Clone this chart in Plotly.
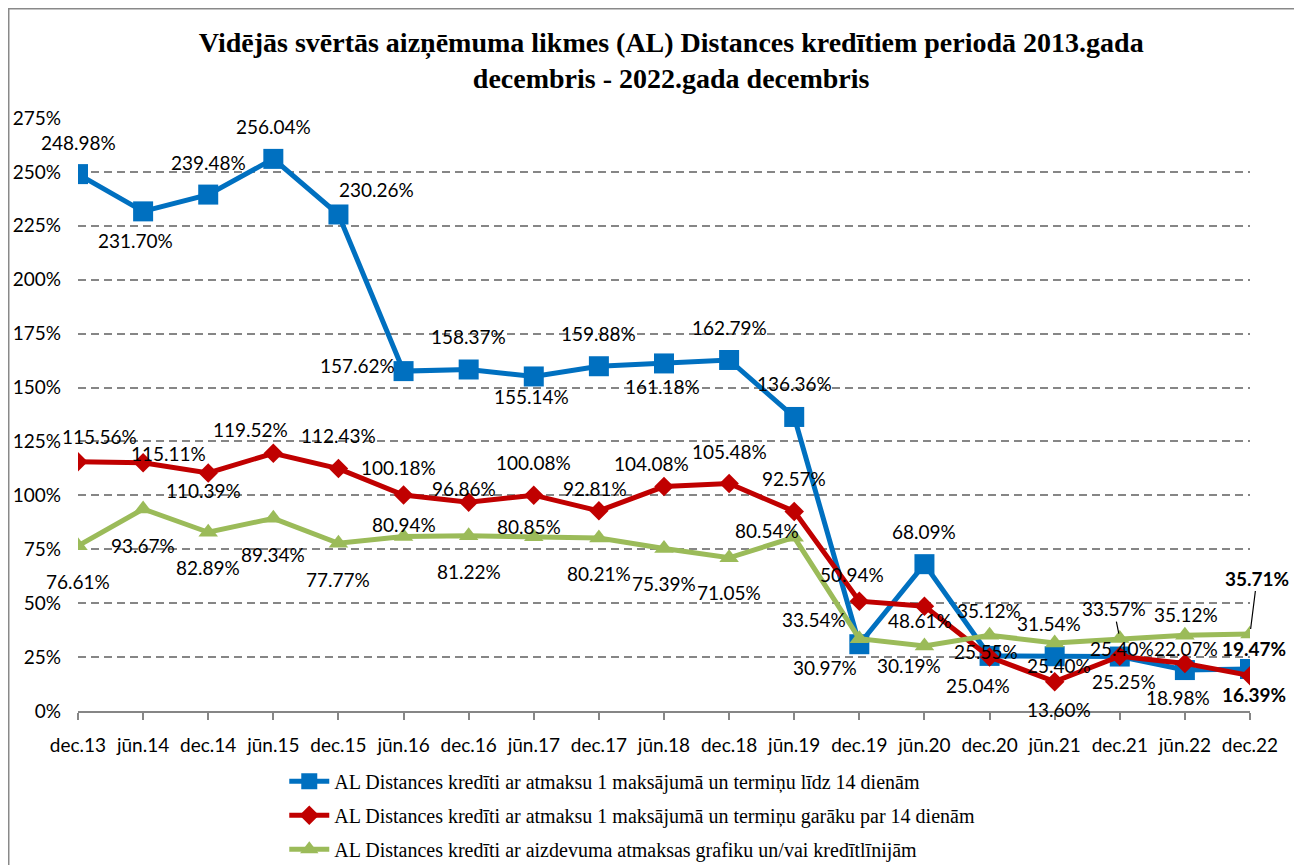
import plotly.graph_objects as go

categories = ["dec.13", "jūn.14", "dec.14", "jūn.15", "dec.15", "jūn.16", "dec.16", "jūn.17",
              "dec.17", "jūn.18", "dec.18", "jūn.19", "dec.19", "jūn.20", "dec.20", "jūn.21",
              "dec.21", "jūn.22", "dec.22"]

short_term = [248.98, 231.70, 239.48, 256.04, 230.26, 157.62, 158.37, 155.14, 159.88, 161.18,
              162.79, 136.36, 30.97, 68.09, 25.55, 25.40, 25.25, 18.98, 19.47]
long_term = [115.56, 115.11, 110.39, 119.52, 112.43, 100.18, 96.86, 100.08, 92.81, 104.08,
             105.48, 92.57, 50.94, 48.61, 25.04, 13.60, 25.40, 22.07, 16.39]
schedule = [76.61, 93.67, 82.89, 89.34, 77.77, 80.94, 81.22, 80.85, 80.21, 75.39,
            71.05, 80.54, 33.54, 30.19, 35.12, 31.54, 33.57, 35.12, 35.71]

names = ["AL Distances kredīti ar atmaksu 1 maksājumā un termiņu līdz 14 dienām",
         "AL Distances kredīti ar atmaksu 1 maksājumā un termiņu garāku par 14 dienām",
         "AL Distances kredīti ar aizdevuma atmaksas grafiku un/vai kredītlīnijām"]

y_ticks = [0, 25, 50, 75, 100, 125, 150, 175, 200, 225, 250, 275]

# ---- styling / label placement (pixel offsets of each data label from its point) ----
colors = ["#0070C0", "#C00000", "#9BBB59"]
symbols = ["square", "diamond", "triangle-up"]
msizes = [20, 15, 17]

off_blue = [(0, 32), (-8, -29), (0, 32), (0, 32), (38, 25), (-46, 6), (0, 33), (-2, -20), (0, 33),
            (-2, -23), (0, 32), (0, 33), (-34, -23), (0, 33), (-4, 4), (4, -9), (4, -25), (-7, -27),
            (4, 21)]
off_red = [(21, 25), (25, 9), (-5, -18), (-23, 24), (0, 33), (-5, 27), (-5, 14), (0, 33), (-4, 22),
           (-13, 23), (0, 32), (0, 33), (-7, 27), (-4, -14), (-12, -28), (4, -28), (2, 8), (1, 15),
           (4, -19)]
off_green = [(0, -36), (0, -36), (0, -35), (0, -36), (0, -36), (0, 12), (0, -36), (-5, 10), (0, -35),
             (0, -35), (0, -35), (-27, 7), (-45, 19), (-15, -20), (-1, 25), (-6, 19), (-6, 30), (1, 21),
             (7, 56)]
leader = {(2, 16), (2, 18)}  # labels drawn with a leader line
bold_idx = {18}

series = [short_term, long_term, schedule]
offsets = [off_blue, off_red, off_green]

label_font = dict(family="Lato", size=19, color="#000000")

fig = go.Figure()
for k, vals in enumerate(series):
    fig.add_trace(go.Scatter(
        x=categories, y=vals, name=names[k], mode="lines+markers",
        line=dict(color=colors[k], width=5),
        marker=dict(symbol=symbols[k], size=msizes[k], color=colors[k]),
        legendgroup="g%d" % k, hoverinfo="skip",
    ))

annotations = []
for k, vals in enumerate(series):
    for i, v in enumerate(vals):
        txt = "%.2f%%" % v
        if i in bold_idx:
            txt = "<b>%s</b>" % txt
        dx, dy = offsets[k][i]
        if (k, i) in leader:
            annotations.append(dict(
                x=categories[i], y=v, xref="x", yref="y", text=txt, showarrow=True,
                arrowhead=0, arrowwidth=1.2, arrowcolor="#000000", ax=dx, ay=-dy,
                standoff=5, font=label_font))
        else:
            annotations.append(dict(
                x=categories[i], y=v, xref="x", yref="y", text=txt, showarrow=False,
                xshift=dx, yshift=dy, font=label_font))

# figure is offset by the page's 8px body margin, so it is 8px smaller than the window
W, H = 1294, 857
fig.update_layout(
    width=W, height=H, autosize=False,
    margin=dict(l=70, r=52, t=110, b=154, autoexpand=False),
    paper_bgcolor="white", plot_bgcolor="white",
    title=dict(
        text="<b>Vidējās svērtās aizņēmuma likmes (AL) Distances kredītiem periodā 2013.gada<br>"
             "decembris - 2022.gada decembris</b>",
        font=dict(family="Liberation Serif", size=28, color="#000000"),
        x=0.5125, xanchor="center", xref="container", y=0.949, yanchor="top", yref="container"),
    xaxis=dict(
        type="category", range=[0, len(categories) - 1], showgrid=False, automargin=False,
        showline=True, linecolor="#868686", linewidth=1.5,
        ticks="outside", ticklen=7, tickcolor="#868686", tickwidth=1.5,
        tickfont=dict(family="Lato", size=19, color="#000000"), ticklabelstandoff=9,
        zeroline=False, fixedrange=True),
    yaxis=dict(
        range=[0, 275], tickvals=y_ticks, ticktext=["%d%%" % t for t in y_ticks],
        showgrid=True, gridcolor="#868686", gridwidth=1.5, griddash="8px,5px",
        showline=False, zeroline=False, ticks="", automargin=False,
        tickfont=dict(family="Lato", size=19, color="#000000"), ticklabelstandoff=16,
        fixedrange=True),
    legend=dict(
        orientation="v", x=0.176, xanchor="left", y=-0.0855, yanchor="top",
        font=dict(family="Liberation Serif", size=20, color="#000000"),
        bgcolor="rgba(0,0,0,0)", tracegroupgap=5, itemwidth=40),
    annotations=annotations,
    shapes=[dict(type="rect", xref="paper", yref="paper",
                 x0=-0.0591, x1=1.041, y0=-0.3, y1=1.1842,
                 line=dict(color="#898989", width=1.5), fillcolor="rgba(0,0,0,0)", layer="below")],
)

fig.write_html("out.html")
